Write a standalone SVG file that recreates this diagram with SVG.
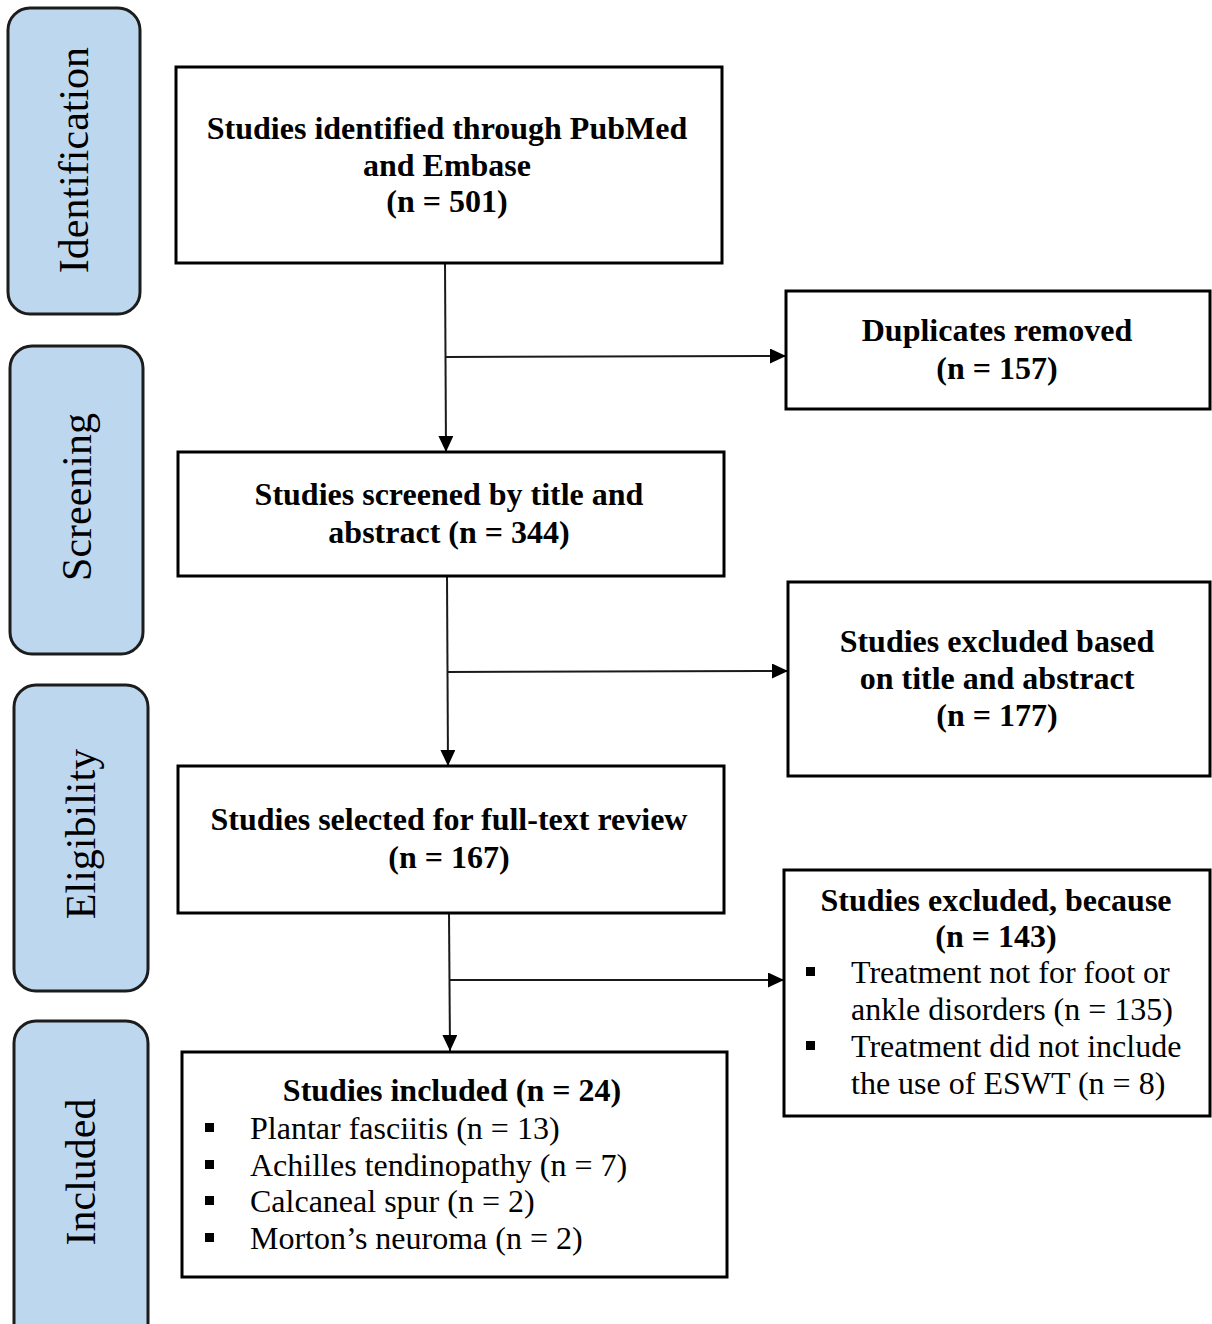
<svg xmlns="http://www.w3.org/2000/svg" width="1212" height="1324" viewBox="0 0 1212 1324">
<style>
.stage{fill:#BDD7EE;stroke:#1c1c1c;stroke-width:3}
.box{fill:#fff;stroke:#000;stroke-width:3}
.st{font-family:"Liberation Serif","Times New Roman",serif;font-size:42px;fill:#000;text-anchor:middle}
.b{font-family:"Liberation Serif","Times New Roman",serif;font-size:32px;font-weight:bold;fill:#000;text-anchor:middle}
.r{font-family:"Liberation Serif","Times New Roman",serif;font-size:32px;fill:#000}
.ln{fill:none;stroke:#1a1a1a;stroke-width:2}
.bul{fill:#000}
</style>
<defs>
<marker id="arr" markerUnits="userSpaceOnUse" markerWidth="17" markerHeight="16" refX="16" refY="7.5" orient="auto">
<path d="M0,0 L16,7.5 L0,15 Z" fill="#000"/>
</marker>
</defs>
<rect width="1212" height="1324" fill="#fff"/>
<g id="stage-identification">
<rect class="stage" x="8" y="8" width="132" height="306" rx="22"/>
<text class="st" transform="translate(88,160) rotate(-90)">Identification</text>
</g>
<g id="stage-screening">
<rect class="stage" x="10" y="346" width="133" height="308" rx="22"/>
<text class="st" transform="translate(91,497) rotate(-90)">Screening</text>
</g>
<g id="stage-eligibility">
<rect class="stage" x="14" y="685" width="134" height="306" rx="22"/>
<text class="st" transform="translate(95,834) rotate(-90)">Eligibility</text>
</g>
<g id="stage-included">
<rect class="stage" x="14" y="1021" width="134" height="340" rx="22"/>
<text class="st" transform="translate(95,1172) rotate(-90)">Included</text>
</g>
<g id="connectors">
<path class="ln" d="M445,263 L446,452" marker-end="url(#arr)"/>
<path class="ln" d="M445,357 L786,356" marker-end="url(#arr)"/>
<path class="ln" d="M447,576 L448,766" marker-end="url(#arr)"/>
<path class="ln" d="M447,672 L788,671" marker-end="url(#arr)"/>
<path class="ln" d="M449,913 L450,1051" marker-end="url(#arr)"/>
<path class="ln" d="M449,980 L784,980" marker-end="url(#arr)"/>
</g>
<g id="node-identified">
<rect class="box" x="176" y="67" width="546" height="196"/>
<text class="b" x="447" y="139">Studies identified through PubMed</text>
<text class="b" x="447" y="176">and Embase</text>
<text class="b" x="447" y="212">(n = 501)</text>
</g>
<g id="node-duplicates">
<rect class="box" x="786" y="291" width="424" height="118"/>
<text class="b" x="997" y="341">Duplicates removed</text>
<text class="b" x="997" y="379">(n = 157)</text>
</g>
<g id="node-screened">
<rect class="box" x="178" y="452" width="546" height="124"/>
<text class="b" x="449" y="505">Studies screened by title and</text>
<text class="b" x="449" y="543">abstract (n = 344)</text>
</g>
<g id="node-excluded-title">
<rect class="box" x="788" y="582" width="422" height="194"/>
<text class="b" x="997" y="652">Studies excluded based</text>
<text class="b" x="997" y="689">on title and abstract</text>
<text class="b" x="997" y="726">(n = 177)</text>
</g>
<g id="node-fulltext">
<rect class="box" x="178" y="766" width="546" height="147"/>
<text class="b" x="449" y="830">Studies selected for full-text review</text>
<text class="b" x="449" y="868">(n = 167)</text>
</g>
<g id="node-excluded-fulltext">
<rect class="box" x="784" y="870" width="426" height="246"/>
<text class="b" x="996" y="911">Studies excluded, because</text>
<text class="b" x="996" y="947">(n = 143)</text>
<rect class="bul" x="806" y="967" width="9" height="9"/>
<text class="r" x="851" y="983">Treatment not for foot or</text>
<text class="r" x="851" y="1020">ankle disorders (n = 135)</text>
<rect class="bul" x="806" y="1041" width="9" height="9"/>
<text class="r" x="851" y="1057">Treatment did not include</text>
<text class="r" x="851" y="1094">the use of ESWT (n = 8)</text>
</g>
<g id="node-included">
<rect class="box" x="182" y="1052" width="545" height="225"/>
<text class="b" x="452" y="1101">Studies included (n = 24)</text>
<rect class="bul" x="205" y="1123" width="9" height="9"/>
<text class="r" x="250" y="1139">Plantar fasciitis (n = 13)</text>
<rect class="bul" x="205" y="1160" width="9" height="9"/>
<text class="r" x="250" y="1176">Achilles tendinopathy (n = 7)</text>
<rect class="bul" x="205" y="1196" width="9" height="9"/>
<text class="r" x="250" y="1212">Calcaneal spur (n = 2)</text>
<rect class="bul" x="205" y="1233" width="9" height="9"/>
<text class="r" x="250" y="1249">Morton’s neuroma (n = 2)</text>
</g>
</svg>
